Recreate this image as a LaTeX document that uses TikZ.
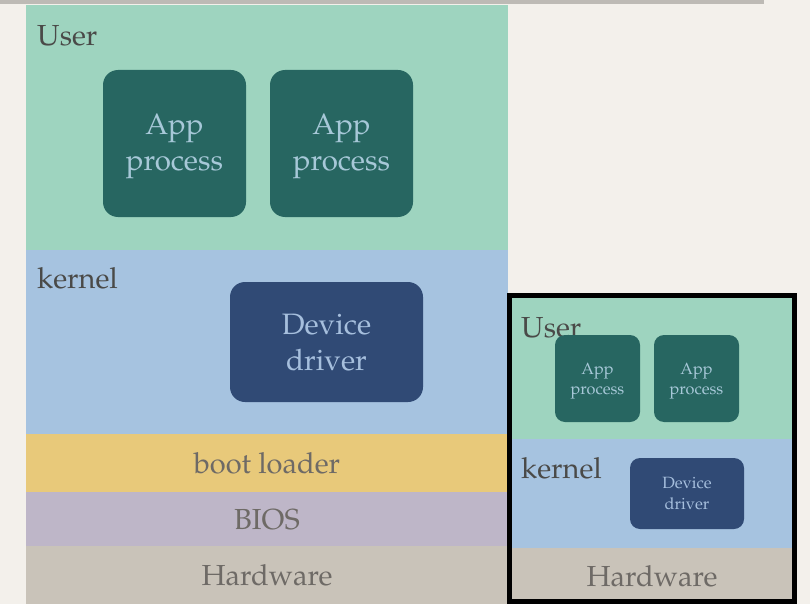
\documentclass[tikz,border=0pt]{standalone}
\usepackage[T1]{fontenc}
\usepackage{mathpazo}
\definecolor{bgc}{HTML}{F3F0EB}
\definecolor{topbar}{HTML}{BDBAB5}
\definecolor{userc}{HTML}{9ED4BF}
\definecolor{kernc}{HTML}{A6C3E0}
\definecolor{bootc}{HTML}{E8C97A}
\definecolor{biosc}{HTML}{BEB6C8}
\definecolor{hwc}{HTML}{C9C3B9}
\definecolor{appc}{HTML}{276661}
\definecolor{drvc}{HTML}{304A75}
\definecolor{labc}{HTML}{4A4A48}
\definecolor{laytext}{HTML}{6E6A66}
\definecolor{apptext}{HTML}{A7C8D8}
\definecolor{drvtext}{HTML}{A6BFDD}
\tikzset{
  layer/.style={draw=none,inner sep=0pt,outer sep=0pt},
  proc/.style={draw=none,rounded corners=15pt,fill=appc,inner sep=0pt},
  sproc/.style={draw=none,rounded corners=10pt,fill=appc,inner sep=0pt},
  drv/.style={proc,fill=drvc},
  sdrv/.style={sproc,fill=drvc},
  bigtxt/.style={text=apptext,align=center,inner sep=0pt,font=\fontsize{29.5}{36}\selectfont},
  smalltxt/.style={text=apptext,align=center,inner sep=0pt,font=\fontsize{16.3}{20.5}\selectfont},
  lab/.style={text=labc,inner sep=0pt,anchor=base west,font=\fontsize{29}{34}\selectfont},
  laytxt/.style={text=laytext,font=\fontsize{29}{34}\selectfont},
}
\begin{document}
\begin{tikzpicture}[x=1pt,y=-1pt]
\useasboundingbox (0,0) rectangle (810,604);
\fill[bgc] (0,0) rectangle (810,604);
\fill[topbar] (0,0) rectangle (764,4);
% left stack
\node[layer,fill=userc,minimum width=482pt,minimum height=246pt] (user) at (267,128) {};
\node[layer,fill=kernc,minimum width=482pt,minimum height=185pt] (kernel) at (267,342) {};
\node[layer,fill=bootc,minimum width=482pt,minimum height=59pt,laytxt] (boot) at (267,463) {boot loader};
\node[layer,fill=biosc,minimum width=482pt,minimum height=55pt,laytxt] (bios) at (267,519.5) {BIOS};
\node[layer,fill=hwc,minimum width=482pt,minimum height=59pt,laytxt] (hw) at (267,575.5) {Hardware};
\node[lab] (userlab) at (37,46) {User};
\node[lab] (kernlab) at (37,288) {kernel};
\node[proc,minimum width=143pt,minimum height=147pt] (app1) at (174.5,143.5) {};
\node[bigtxt] (app1t) at ([yshift=-3]app1.center) {App\\process};
\node[proc,minimum width=143pt,minimum height=147pt] (app2) at (341.5,143.5) {};
\node[bigtxt] (app2t) at ([yshift=-3]app2.center) {App\\process};
\node[drv,minimum width=193pt,minimum height=120pt] (drv) at (326.5,342) {};
\node[bigtxt,text=drvtext] (drvt) at ([yshift=-1]drv.center) {Device\\driver};
% right stack
\node[layer,fill=userc,minimum width=282pt,minimum height=143pt] (ruser) at (652,368) {};
\node[layer,fill=kernc,minimum width=282pt,minimum height=109pt] (rkernel) at (652,493) {};
\node[layer,fill=hwc,minimum width=282pt,minimum height=58pt,laytxt] (rhw) at (652,576.5) {Hardware};
\node[lab] (ruserlab) at (521,337) {User};
\node[sproc,minimum width=85pt,minimum height=87pt] (rapp1) at (597.5,378.5) {};
\node[smalltxt] (rapp1t) at ([yshift=-2.5]rapp1.center) {App\\process};
\node[sproc,minimum width=85pt,minimum height=87pt] (rapp2) at (696.5,378.5) {};
\node[smalltxt] (rapp2t) at ([yshift=-2.5]rapp2.center) {App\\process};
\node[lab] (rkernlab) at (521,478) {kernel};
\node[sdrv,minimum width=114pt,minimum height=71pt] (rdrv) at (687,493.5) {};
\node[smalltxt,text=drvtext] (rdrvt) at ([yshift=0]rdrv.center) {Device\\driver};
\draw[line width=5pt,black] (509.5,295.5) rectangle (794.5,601.5);
\end{tikzpicture}
\end{document}
